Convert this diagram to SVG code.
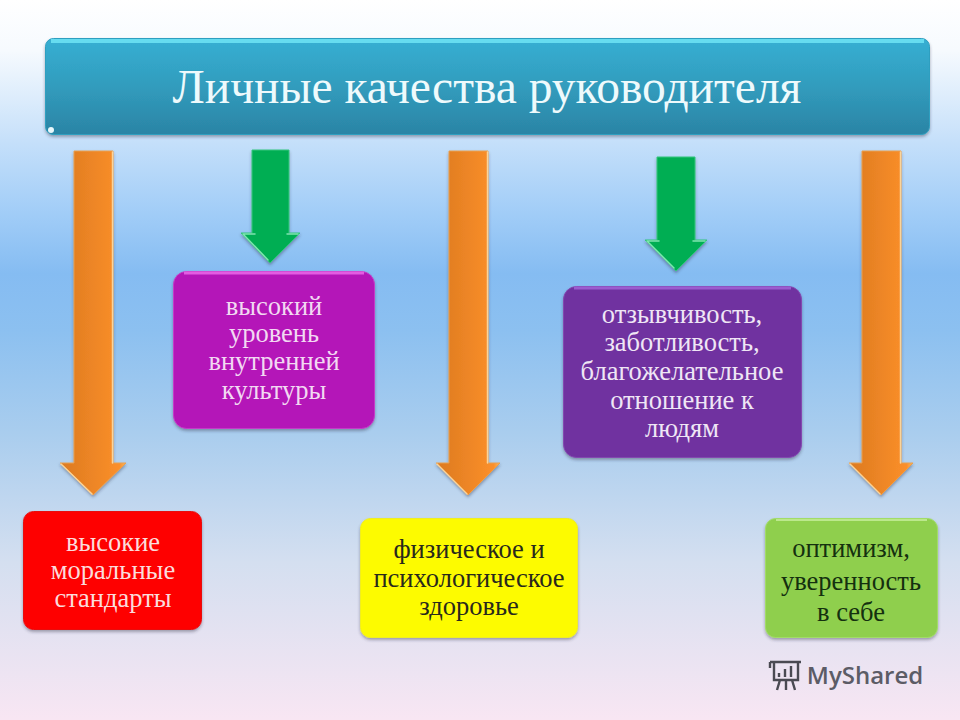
<svg xmlns="http://www.w3.org/2000/svg" width="960" height="720" viewBox="0 0 960 720">
<defs>
<linearGradient id="bg" x1="0" y1="0" x2="0" y2="1">
<stop offset="0" stop-color="#ffffff"/><stop offset="0.07" stop-color="#f6fafe"/><stop offset="0.2" stop-color="#c4dffa"/><stop offset="0.3" stop-color="#a0ccf7"/><stop offset="0.38" stop-color="#85bcf2"/><stop offset="0.46" stop-color="#8cc0f0"/><stop offset="0.6" stop-color="#a9cdee"/><stop offset="0.78" stop-color="#d4dff0"/><stop offset="1" stop-color="#f8e6f3"/>
</linearGradient>
<linearGradient id="title" x1="0" y1="0" x2="0" y2="1"><stop offset="0" stop-color="#37afd3"/><stop offset="0.5" stop-color="#319cbd"/><stop offset="1" stop-color="#2b84a5"/></linearGradient>
<linearGradient id="org" x1="0" y1="0" x2="1" y2="0"><stop offset="0" stop-color="#dc7a20"/><stop offset="0.9" stop-color="#fb8f2a"/><stop offset="1" stop-color="#fcb860"/></linearGradient>
<filter id="sh" x="-10%" y="-10%" width="120%" height="125%"><feDropShadow dx="0" dy="2" stdDeviation="1.5" flood-color="#334" flood-opacity="0.4"/></filter>
</defs>
<style>
text{font-family:"Liberation Serif","Times New Roman",serif;text-anchor:middle}
.l{font-size:26.5px}
.box{filter:url(#sh);stroke-width:1}
.org{fill:url(#org);stroke:#e8a050;stroke-width:1;filter:url(#sh)}
.grn{fill:#06ae52;stroke:#35c67f;stroke-width:1;filter:url(#sh)}
.hl{fill:none;stroke-linecap:round}
</style>
<rect width="960" height="720" fill="url(#bg)"/>
<g id="connectors">
<path class="org" d="M74 151H113V463H126L93 495L60 463H74Z"/>
<path class="hl" d="M112.500 152V463M61 464L92 494" stroke="#fad49a" stroke-width="1.500"/>
<path class="org" d="M449 151H488V463H500L468 495L436 463H449Z"/>
<path class="hl" d="M487.500 152V463M437 464L467 494" stroke="#fad49a" stroke-width="1.500"/>
<path class="org" d="M862 151H901V463H913L881 495L849 463H862Z"/>
<path class="hl" d="M900.500 152V463M850 464L880 494" stroke="#fad49a" stroke-width="1.500"/>
<path class="grn" d="M252 150H289V233H300L270 263L241 233H252Z"/>
<path class="hl" d="M243 234L268 260M243 234H255M287 234H298" stroke="#7fe3b0" stroke-width="1.500"/>
<path class="grn" d="M657 157H695V240H707L676 271L645 240H657Z"/>
<path class="hl" d="M647 241L674 268M647 241H659M693 241H705" stroke="#7fe3b0" stroke-width="1.500"/>
</g>
<g id="title-node">
<rect class="box" x="45.500" y="38.500" width="884" height="96" rx="8" fill="url(#title)" stroke="#2f9fc0"/>
<path d="M51 41H924" stroke="#66dcf0" stroke-width="4" fill="none"/>
<circle cx="51" cy="130" r="3" fill="#e8f8fb"/>
<text x="487" y="103" font-size="47.500" fill="#eefafc">Личные качества руководителя</text>
</g>
<g id="node-culture">
<rect class="box" x="173.500" y="271.500" width="201" height="157" rx="13" fill="#b416b8" stroke="#c53bc9"/>
<path d="M184 273H364" stroke="#e25ce2" stroke-width="3"/>
<text class="l" fill="#f2d9f2"><tspan x="274" y="315">высокий</tspan><tspan x="274" y="342">уровень</tspan><tspan x="274" y="370">внутренней</tspan><tspan x="274" y="399">культуры</tspan></text>
</g>
<g id="node-kind">
<rect class="box" x="563.500" y="286.500" width="238" height="171" rx="13" fill="#7030a0" stroke="#8348b0"/>
<path d="M574 288H791" stroke="#9a5ccf" stroke-width="3"/>
<text class="l" fill="#efe6f5"><tspan x="682" y="323">отзывчивость,</tspan><tspan x="682" y="351">заботливость,</tspan><tspan x="682" y="380">благожелательное</tspan><tspan x="682" y="409">отношение к</tspan><tspan x="682" y="437">людям</tspan></text>
</g>
<g id="node-moral">
<rect class="box" x="23.500" y="511.500" width="178" height="118" rx="10" fill="#fe0000" stroke="#e81010"/>
<text class="l" fill="#fbdcdc"><tspan x="113" y="551">высокие</tspan><tspan x="113" y="579">моральные</tspan><tspan x="113" y="607">стандарты</tspan></text>
</g>
<g id="node-health">
<rect class="box" x="360.500" y="518.500" width="217" height="119" rx="10" fill="#fdfb00" stroke="#f0ee20"/>
<text class="l" fill="#28281c"><tspan x="469" y="558">физическое и</tspan><tspan x="469" y="587">психологическое</tspan><tspan x="469" y="615">здоровье</tspan></text>
</g>
<g id="node-optimism">
<rect class="box" x="765.500" y="518.500" width="172" height="119" rx="10" fill="#8fcf4e" stroke="#a2dc68"/>
<path d="M776 520H927" stroke="#bce88c" stroke-width="2"/>
<text class="l" fill="#14300f"><tspan x="851" y="557">оптимизм,</tspan><tspan x="851" y="590">уверенность</tspan><tspan x="851" y="621">в себе</tspan></text>
</g>
<g id="logo">
<path d="M770 662H801M774 662V680H798V662M780 680L777 690M792 680L795 690M786 680V690M770 662V668" fill="none" stroke="#4a4a52" stroke-width="2.400"/>
<path d="M779 677V673M785 677V669M791 677V666" stroke="#4a4a52" stroke-width="2.400"/>
<text x="865" y="684" font-size="24" font-weight="600" style="font-family:'Open Sans',sans-serif" fill="#5c5c66">MyShared</text>
</g>
</svg>
